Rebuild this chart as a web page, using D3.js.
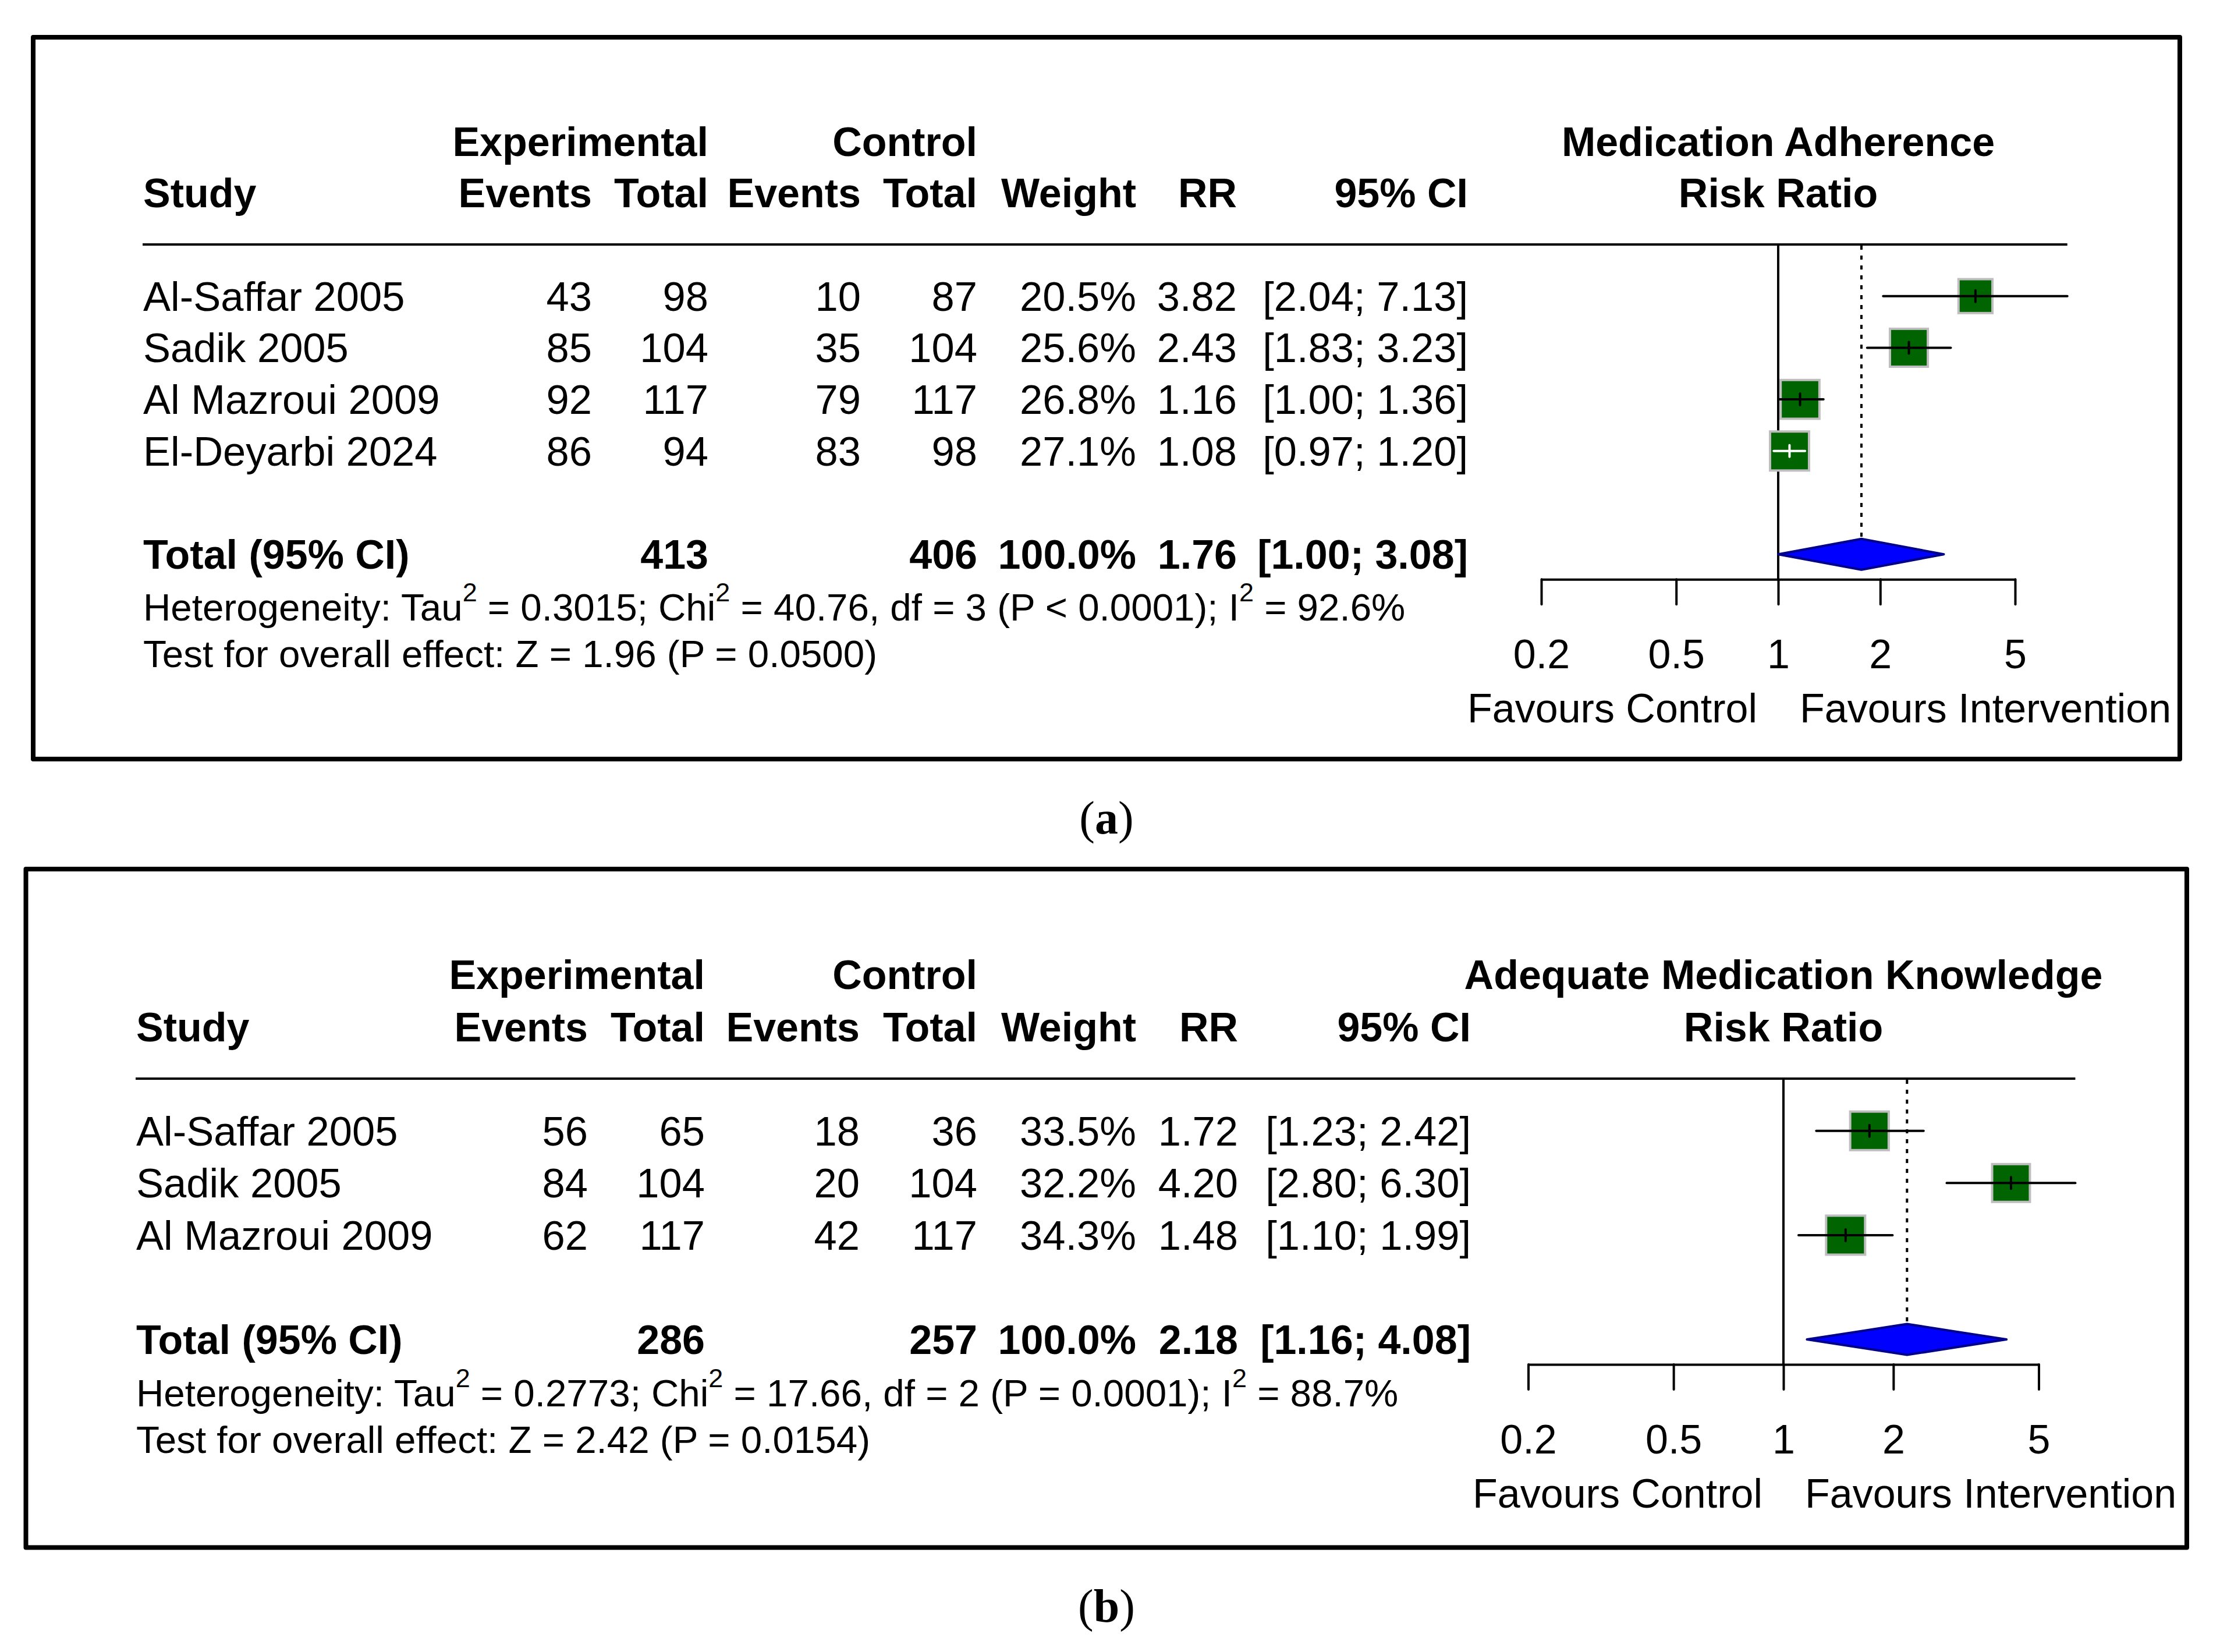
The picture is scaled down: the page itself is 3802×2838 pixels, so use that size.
<!DOCTYPE html>
<html>
<head>
<meta charset="utf-8">
<script src="https://cdn.jsdelivr.net/npm/d3@7"></script>
<style>
html, body { margin: 0; padding: 0; background: #fff; }
svg { display: block; }
</style>
</head>
<body>
<svg id="chart" width="3802" height="2838"></svg>
<script>
// ---------------- DATA ----------------
// Panel (a): Medication Adherence
const headingA = "Medication Adherence";
const studiesA = ["Al-Saffar 2005", "Sadik 2005", "Al Mazroui 2009", "El-Deyarbi 2024"];
const expEventsA = [43, 85, 92, 86];
const expTotalA = [98, 104, 117, 94];
const ctrlEventsA = [10, 35, 79, 83];
const ctrlTotalA = [87, 104, 117, 98];
const weightA = [20.5, 25.6, 26.8, 27.1];
const rrA = [3.82, 2.43, 1.16, 1.08];
const lowerA = [2.04, 1.83, 1.00, 0.97];
const upperA = [7.13, 3.23, 1.36, 1.20];
const pooledA = [413, 406, 100.0, 1.76, 1.00, 3.08]; // expTotal, ctrlTotal, weight, RR, lower, upper
const hetA = ["0.3015", "40.76", "3", "P < 0.0001", "92.6%"]; // tau2, chi2, df, p, I2
const overallA = ["1.96", "0.0500"]; // Z, P

// Panel (b): Adequate Medication Knowledge
const headingB = "Adequate Medication Knowledge";
const studiesB = ["Al-Saffar 2005", "Sadik 2005", "Al Mazroui 2009"];
const expEventsB = [56, 84, 62];
const expTotalB = [65, 104, 117];
const ctrlEventsB = [18, 20, 42];
const ctrlTotalB = [36, 104, 117];
const weightB = [33.5, 32.2, 34.3];
const rrB = [1.72, 4.20, 1.48];
const lowerB = [1.23, 2.80, 1.10];
const upperB = [2.42, 6.30, 1.99];
const pooledB = [286, 257, 100.0, 2.18, 1.16, 4.08];
const hetB = ["0.2773", "17.66", "2", "P = 0.0001", "88.7%"];
const overallB = ["2.42", "0.0154"];

// Axis ticks
const tickValues = [0.2, 0.5, 1, 2, 5];
const tickLabels = ["0.2", "0.5", "1", "2", "5"];
const labelLeft = "Favours Control";
const labelRight = "Favours Intervention";
const panelLabels = ["a", "b"];

// ---------------- LAYOUT ----------------
const SANS = "'Liberation Sans', Arial, Helvetica, sans-serif";
const SERIF = "'Liberation Serif', 'Times New Roman', serif";
const FS = 70, FS_ROW = 70.5, FS_HET = 65.5, FS_SUP = 45;

const layoutA = {
  box: [57, 64, 3745, 1304],
  textX: 246,
  cols: [1017, 1217, 1479, 1679, 1952, 2125, 2522],
  row1: 508.7, rowH: 88.7,
  xRange: [2648, 3462],
  label: { x: 1901, y: 1432 }
};
const layoutB = {
  box: [44.5, 1493, 3757, 2658.5],
  textX: 234,
  cols: [1010, 1211, 1477, 1679, 1952, 2127, 2527],
  row1: 1942.7, rowH: 89.6,
  xRange: [2625.5, 3502.5],
  label: { x: 1901, y: 2786 }
};

const svg = d3.select("#chart");
svg.append("rect").attr("width", 3802).attr("height", 2838).attr("fill", "#fff");

function drawPanel(D, L, panelLabel) {
  const g = svg.append("g");
  const x = d3.scaleLog()
    .domain([tickValues[0], tickValues[tickValues.length - 1]])
    .range(L.xRange);
  const n = D.studies.length;
  const rowY = i => L.row1 + i * L.rowH;
  const base = y => y + 25;
  const totalY = rowY(n + 1);
  const axisY = totalY + 43;
  const headerLineY = rowY(-1);
  const diamondH = 26.5;

  // frame
  g.append("rect")
    .attr("x", L.box[0]).attr("y", L.box[1])
    .attr("width", L.box[2] - L.box[0]).attr("height", L.box[3] - L.box[1])
    .attr("fill", "none").attr("stroke", "#000").attr("stroke-width", 8)
    .attr("stroke-linejoin", "round");

  const txt = (s, xx, y, anchor, weight, size) =>
    g.append("text").attr("x", xx).attr("y", y)
      .attr("text-anchor", anchor || "start")
      .attr("font-family", SANS)
      .attr("font-size", size || (weight === "bold" ? FS : FS_ROW))
      .attr("font-weight", weight || "normal")
      .attr("fill", "#000")
      .text(s);

  // headers
  const c = L.cols;
  const h1 = base(rowY(-3)), h2 = base(rowY(-2));
  txt("Experimental", c[1], h1, "end", "bold");
  txt("Control", c[3], h1, "end", "bold");
  txt(D.heading, x(1), h1, "middle", "bold");
  txt("Study", L.textX, h2, "start", "bold");
  txt("Events", c[0], h2, "end", "bold");
  txt("Total", c[1], h2, "end", "bold");
  txt("Events", c[2], h2, "end", "bold");
  txt("Total", c[3], h2, "end", "bold");
  txt("Weight", c[4], h2, "end", "bold");
  txt("RR", c[5], h2, "end", "bold");
  txt("95% CI", c[6], h2, "end", "bold");
  txt("Risk Ratio", x(1), h2, "middle", "bold");

  // header rule
  g.append("line")
    .attr("x1", L.textX - 1).attr("x2", x(d3.max(D.upper)))
    .attr("y1", headerLineY).attr("y2", headerLineY)
    .attr("stroke", "#000").attr("stroke-width", 4);

  // study rows text
  const ci = (lo, hi) => "[" + lo.toFixed(2) + "; " + hi.toFixed(2) + "]";
  D.studies.forEach((s, i) => {
    const y = base(rowY(i));
    txt(s, L.textX, y, "start");
    txt(String(D.expEvents[i]), c[0], y, "end");
    txt(String(D.expTotal[i]), c[1], y, "end");
    txt(String(D.ctrlEvents[i]), c[2], y, "end");
    txt(String(D.ctrlTotal[i]), c[3], y, "end");
    txt(D.weight[i].toFixed(1) + "%", c[4], y, "end");
    txt(D.rr[i].toFixed(2), c[5], y, "end");
    txt(ci(D.lower[i], D.upper[i]), c[6], y, "end");
  });

  // total row
  const ty = base(totalY);
  txt("Total (95% CI)", L.textX, ty, "start", "bold");
  txt(String(D.pooled[0]), c[1], ty, "end", "bold");
  txt(String(D.pooled[1]), c[3], ty, "end", "bold");
  txt(D.pooled[2].toFixed(1) + "%", c[4], ty, "end", "bold");
  txt(D.pooled[3].toFixed(2), c[5], ty, "end", "bold");
  txt(ci(D.pooled[4], D.pooled[5]), c[6], ty, "end", "bold");

  // heterogeneity
  const hy = ty + L.rowH;
  const het = g.append("text").attr("x", L.textX).attr("y", hy)
    .attr("font-family", SANS).attr("font-size", FS_HET).attr("fill", "#000");
  const parts = [
    ["Heterogeneity: Tau", 0],
    ["2", 1],
    [" = " + D.het[0] + "; Chi", 0],
    ["2", 1],
    [" = " + D.het[1] + ", df = " + D.het[2] + " (" + D.het[3] + "); I", 0],
    ["2", 1],
    [" = " + D.het[4], 0]
  ];
  let prevSup = 0;
  parts.forEach(([s, sup]) => {
    const t = het.append("tspan").text(s);
    if (sup && !prevSup) t.attr("dy", -33).attr("font-size", FS_SUP);
    if (!sup && prevSup) t.attr("dy", 33).attr("font-size", FS_HET);
    prevSup = sup;
  });
  txt("Test for overall effect: Z = " + D.overall[0] + " (P = " + D.overall[1] + ")",
      L.textX, hy + 80, "start", "normal", FS_HET);

  // reference line at 1
  g.append("line")
    .attr("x1", x(1)).attr("x2", x(1))
    .attr("y1", headerLineY).attr("y2", axisY)
    .attr("stroke", "#000").attr("stroke-width", 4);

  // pooled estimate dotted line
  g.append("line")
    .attr("x1", x(D.pooled[3])).attr("x2", x(D.pooled[3]))
    .attr("y1", headerLineY + 2).attr("y2", totalY - diamondH)
    .attr("stroke", "#000").attr("stroke-width", 4)
    .attr("stroke-dasharray", "7 10");

  // squares + CIs
  const wmax = d3.max(D.weight);
  D.studies.forEach((s, i) => {
    const cy = rowY(i);
    const cx = x(D.rr[i]);
    const size = 67 * Math.sqrt(D.weight[i] / wmax);
    g.append("rect")
      .attr("x", cx - size / 2).attr("y", cy - size / 2)
      .attr("width", size).attr("height", size)
      .attr("fill", "#006400").attr("stroke", "#bebebe").attr("stroke-width", 4);
    const lo = x(D.lower[i]), hi = x(D.upper[i]);
    const inside = lo >= cx - size / 2 && hi <= cx + size / 2;
    const col = inside ? "#fff" : "#000";
    g.append("line")
      .attr("x1", lo).attr("x2", hi).attr("y1", cy).attr("y2", cy)
      .attr("stroke", col).attr("stroke-width", 4).attr("stroke-linecap", "round");
    g.append("line")
      .attr("x1", cx).attr("x2", cx).attr("y1", cy - 10).attr("y2", cy + 10)
      .attr("stroke", col).attr("stroke-width", 4).attr("stroke-linecap", "round");
  });

  // diamond
  const dl = x(D.pooled[4]), dm = x(D.pooled[3]), dr = x(D.pooled[5]);
  g.append("polygon")
    .attr("points", [[dl, totalY], [dm, totalY - diamondH], [dr, totalY], [dm, totalY + diamondH]]
      .map(p => p.join(",")).join(" "))
    .attr("fill", "#0000ff").attr("stroke", "#00008b").attr("stroke-width", 4)
    .attr("stroke-linejoin", "round");

  // axis
  const ax = g.append("g")
    .attr("transform", `translate(0,${axisY})`)
    .call(d3.axisBottom(x)
      .tickValues(tickValues)
      .tickFormat((d, i) => tickLabels[i])
      .tickSize(43).tickSizeOuter(0).tickPadding(60));
  ax.attr("font-size", FS).attr("font-family", SANS);
  ax.select(".domain").attr("stroke-width", 4).attr("stroke", "#000");
  ax.selectAll(".tick line").attr("stroke-width", 4).attr("stroke", "#000").attr("stroke-linecap", "round");
  ax.selectAll(".tick text").attr("fill", "#000");

  // favours labels
  txt(labelLeft, x(1) - 36, axisY + 246, "end", "normal", FS);
  txt(labelRight, x(1) + 37, axisY + 246, "start", "normal", FS);

  // panel label
  const pl = svg.append("text")
    .attr("x", L.label.x).attr("y", L.label.y)
    .attr("text-anchor", "middle")
    .attr("font-family", SERIF).attr("font-size", 80).attr("fill", "#000");
  pl.append("tspan").text("(");
  pl.append("tspan").attr("font-weight", "bold").text(panelLabel);
  pl.append("tspan").text(")");
}

drawPanel({
  heading: headingA, studies: studiesA, expEvents: expEventsA, expTotal: expTotalA,
  ctrlEvents: ctrlEventsA, ctrlTotal: ctrlTotalA, weight: weightA, rr: rrA,
  lower: lowerA, upper: upperA, pooled: pooledA, het: hetA, overall: overallA
}, layoutA, panelLabels[0]);

drawPanel({
  heading: headingB, studies: studiesB, expEvents: expEventsB, expTotal: expTotalB,
  ctrlEvents: ctrlEventsB, ctrlTotal: ctrlTotalB, weight: weightB, rr: rrB,
  lower: lowerB, upper: upperB, pooled: pooledB, het: hetB, overall: overallB
}, layoutB, panelLabels[1]);
</script>
</body>
</html>
